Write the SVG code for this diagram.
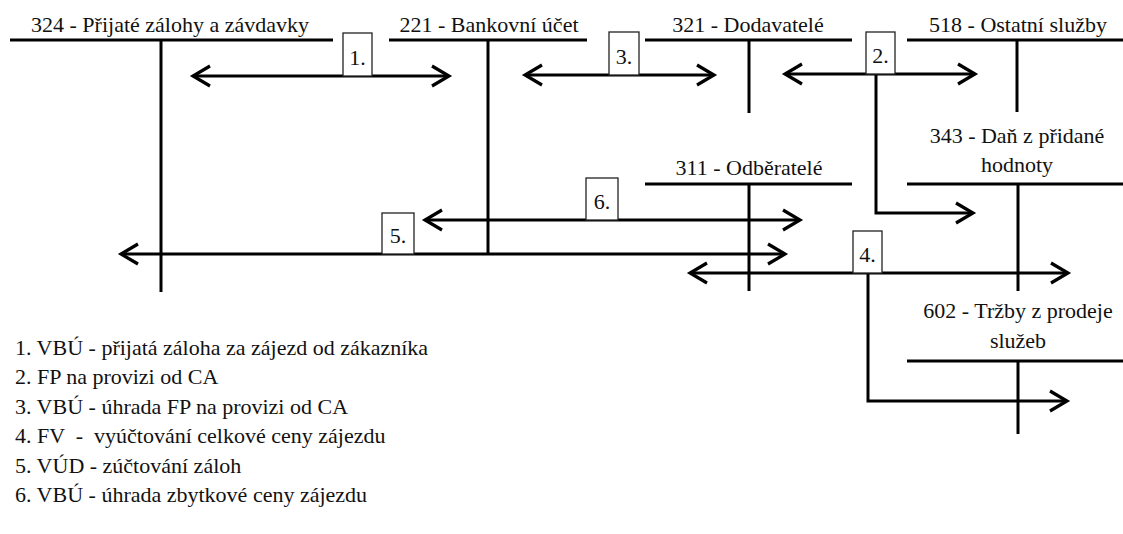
<svg xmlns="http://www.w3.org/2000/svg" width="1123" height="534" viewBox="0 0 1123 534">
<style>
.t{font-family:'Liberation Serif','Times New Roman',serif;font-size:22px;fill:#111;}
.c{text-anchor:middle;}
.ln{stroke:#000;stroke-width:3;fill:none;}
.box{fill:#fff;stroke:#222;stroke-width:1.3;}
.ar{stroke:#000;stroke-width:3;fill:none;}
</style>
<defs>
<marker id="ah" markerUnits="userSpaceOnUse" markerWidth="24" markerHeight="26" viewBox="0 0 24 26" refX="20" refY="13" orient="auto-start-reverse">
<path d="M3,3 L20,13 L3,23" stroke="#000" stroke-width="3.2" fill="none"/>
</marker>
</defs>
<rect width="1123" height="534" fill="#fff"/>

<g id="acc324">
<text class="t c" x="170" y="32">324 - Přijaté zálohy a závdavky</text>
<line class="ln" x1="10" y1="40" x2="333" y2="40"/>
<line class="ln" x1="161" y1="40" x2="161" y2="292"/>
</g>
<g id="acc221">
<text class="t c" x="489" y="32">221 - Bankovní účet</text>
<line class="ln" x1="389" y1="40" x2="587" y2="40"/>
<line class="ln" x1="488" y1="40" x2="488" y2="255"/>
</g>
<g id="acc321">
<text class="t c" x="748" y="32">321 - Dodavatelé</text>
<line class="ln" x1="645" y1="40" x2="852" y2="40"/>
<line class="ln" x1="749" y1="40" x2="749" y2="113"/>
</g>
<g id="acc518">
<text class="t c" x="1018" y="32">518 - Ostatní služby</text>
<line class="ln" x1="907" y1="40" x2="1123" y2="40"/>
<line class="ln" x1="1017" y1="40" x2="1017" y2="112"/>
</g>
<g id="acc343">
<text class="t c" x="1017" y="143">343 - Daň z přidané</text>
<text class="t c" x="1017" y="172">hodnoty</text>
<line class="ln" x1="907" y1="184" x2="1123" y2="184"/>
<line class="ln" x1="1018" y1="184" x2="1018" y2="291"/>
</g>
<g id="acc311">
<text class="t c" x="749" y="175">311 - Odběratelé</text>
<line class="ln" x1="645" y1="184" x2="852" y2="184"/>
<line class="ln" x1="749" y1="184" x2="749" y2="291"/>
</g>
<g id="acc602">
<text class="t c" x="1018" y="318">602 - Tržby z prodeje</text>
<text class="t c" x="1018" y="348">služeb</text>
<line class="ln" x1="907" y1="361" x2="1123" y2="361"/>
<line class="ln" x1="1018" y1="361" x2="1018" y2="434"/>
</g>

<g id="connectors">
<line class="ar" x1="193" y1="76" x2="449" y2="76" marker-start="url(#ah)" marker-end="url(#ah)"/>
<line class="ar" x1="525" y1="75" x2="714" y2="75" marker-start="url(#ah)" marker-end="url(#ah)"/>
<line class="ar" x1="785" y1="74" x2="975" y2="74" marker-start="url(#ah)" marker-end="url(#ah)"/>
<polyline class="ar" points="876,74 876,213 973,213" marker-end="url(#ah)"/>
<line class="ar" x1="425" y1="220" x2="800" y2="220" marker-start="url(#ah)" marker-end="url(#ah)"/>
<line class="ar" x1="121" y1="254" x2="785" y2="254" marker-start="url(#ah)" marker-end="url(#ah)"/>
<line class="ar" x1="690" y1="273" x2="1068" y2="273" marker-start="url(#ah)" marker-end="url(#ah)"/>
<polyline class="ar" points="868,273 868,401 1067,401" marker-end="url(#ah)"/>
</g>

<g id="labels">
<rect class="box" x="343" y="33" width="29" height="43"/>
<text class="t c" x="357.5" y="65">1.</text>
<rect class="box" x="609" y="32" width="30" height="43"/>
<text class="t c" x="624" y="64">3.</text>
<rect class="box" x="866" y="32" width="29" height="42"/>
<text class="t c" x="880.5" y="63">2.</text>
<rect class="box" x="586" y="178" width="32" height="42"/>
<text class="t c" x="602" y="209">6.</text>
<rect class="box" x="382" y="213" width="32" height="41"/>
<text class="t c" x="398" y="243">5.</text>
<rect class="box" x="853" y="231" width="29" height="42"/>
<text class="t c" x="867.5" y="262">4.</text>
</g>

<g id="legend">
<text class="t" x="15" y="355">1. VBÚ - přijatá záloha za zájezd od zákazníka</text>
<text class="t" x="15" y="384">2. FP na provizi od CA</text>
<text class="t" x="15" y="414">3. VBÚ - úhrada FP na provizi od CA</text>
<text class="t" x="15" y="443" style="white-space:pre">4. FV  -  vyúčtování celkové ceny zájezdu</text>
<text class="t" x="15" y="473">5. VÚD - zúčtování záloh</text>
<text class="t" x="15" y="502">6. VBÚ - úhrada zbytkové ceny zájezdu</text>
</g>
</svg>
